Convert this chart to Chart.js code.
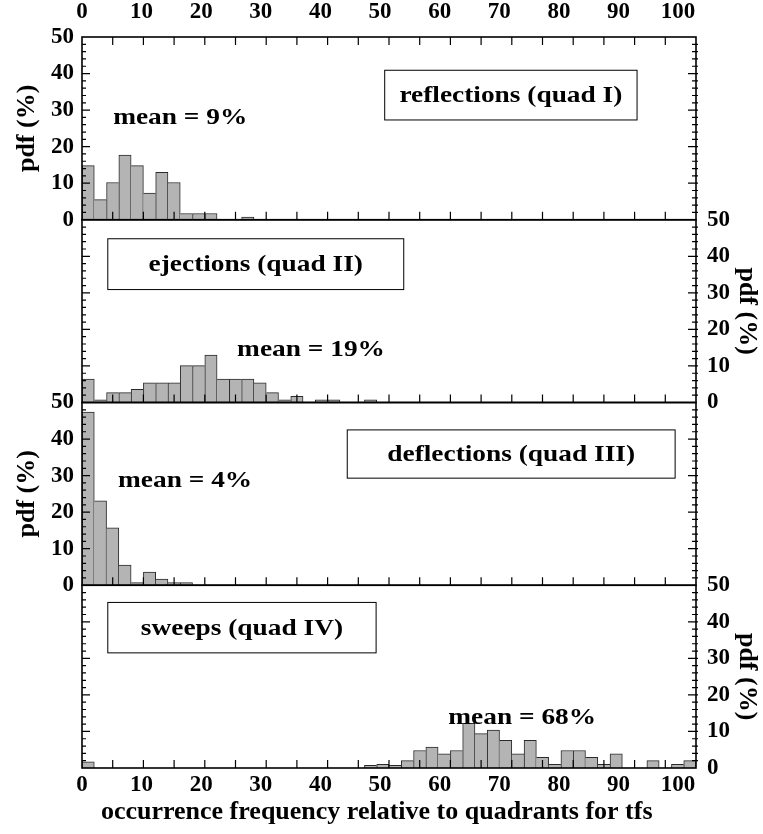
<!DOCTYPE html>
<html>
<head>
<meta charset="utf-8">
<script src="https://cdn.jsdelivr.net/npm/chart.js@4.4.1/dist/chart.umd.min.js"></script>
<style>
  html, body { margin: 0; padding: 0; background: #fff; }
  #wrap { position: relative; width: 763px; height: 834px; }
</style>
</head>
<body>
<div id="wrap"><canvas id="c" width="763" height="834"></canvas></div>
<script>
// Centres of the 2 %-wide occurrence-frequency bins
const binCentres = [1, 3, 5, 7, 9, 11, 13, 15, 17, 19,
  21, 23, 25, 27, 29, 31, 33, 35, 37, 39,
  41, 43, 45, 47, 49, 51, 53, 55, 57, 59,
  61, 63, 65, 67, 69, 71, 73, 75, 77, 79,
  81, 83, 85, 87, 89, 91, 93, 95, 97, 99];

// pdf (%) per bin for each quadrant event type
const reflections = [14.8, 5.5, 10.2, 17.7, 14.8, 7.3, 13.0, 10.2, 1.7, 1.7,
  1.7, 0, 0, 0.7, 0, 0, 0, 0, 0, 0,
  0, 0, 0, 0, 0, 0, 0, 0, 0, 0,
  0, 0, 0, 0, 0, 0, 0, 0, 0, 0,
  0, 0, 0, 0, 0, 0, 0, 0, 0, 0];
const ejections = [6.4, 0.7, 2.7, 2.7, 3.6, 5.4, 5.4, 5.4, 10.1, 10.1,
  13.0, 6.4, 6.4, 6.4, 5.4, 2.7, 0.7, 1.7, 0, 0.7,
  0.7, 0, 0, 0.7, 0, 0, 0, 0, 0, 0,
  0, 0, 0, 0, 0, 0, 0, 0, 0, 0,
  0, 0, 0, 0, 0, 0, 0, 0, 0, 0];
const deflections = [47.4, 23.1, 15.7, 5.5, 0.7, 3.6, 1.7, 0.7, 0.7, 0,
  0, 0, 0, 0, 0, 0, 0, 0, 0, 0,
  0, 0, 0, 0, 0, 0, 0, 0, 0, 0,
  0, 0, 0, 0, 0, 0, 0, 0, 0, 0,
  0, 0, 0, 0, 0, 0, 0, 0, 0, 0];
const sweeps = [1.7, 0, 0, 0, 0, 0, 0, 0, 0, 0,
  0, 0, 0, 0, 0, 0, 0, 0, 0, 0,
  0, 0, 0, 0.7, 1.0, 0.7, 2.0, 4.8, 5.7, 3.9,
  4.8, 12.2, 9.4, 10.4, 7.6, 3.9, 7.6, 2.9, 1.0, 4.8,
  4.8, 2.9, 1.0, 3.9, 0, 0, 2.0, 0, 1.0, 2.0];

const quadrantNames = ['reflections (quad I)', 'ejections (quad II)', 'deflections (quad III)', 'sweeps (quad IV)'];
const meanValues = [9, 19, 4, 68];
const frequencyTicks = [0, 10, 20, 30, 40, 50, 60, 70, 80, 90, 100];
const pdfTicks = [0, 10, 20, 30, 40, 50];
const frequencyTitle = 'occurrence frequency relative to quadrants for tfs';

// Label placement inside each panel, in axis units: [xFrom, xTo, yTop, yBottom]
const nameBoxes = [[49.3, 90.4, 40.9, 27.3], [4.2, 52.4, 44.8, 30.9], [43.2, 96.6, 42.5, 29.3], [4.2, 47.9, 45.3, 31.5]];
const meanSpots = [[16.0, 27.9], [37.3, 14.4], [16.8, 28.7], [71.7, 13.8]];
const titleCentre = 48;
// which side carries the numbered pdf axis in each panel
const labelSide = ['left', 'right', 'left', 'right'];

const FAMILY = "'Liberation Serif', 'Times New Roman', Times, serif";
const tickFont = { family: FAMILY, size: 23, weight: 'bold' };
const titleFont = { family: FAMILY, size: 26, weight: 'bold' };
const textFont = "bold 24px " + FAMILY;
const axisTitleFont = "bold 26px " + FAMILY;
const textStretch = 1.14;

const series = [reflections, ejections, deflections, sweeps];
const leftIds = ['yL1', 'yL2', 'yL3', 'yL4'];
const rightIds = ['yR1', 'yR2', 'yR3', 'yR4'];

function toPoints(values) {
  return binCentres.map((c, i) => ({ x: c, y: values[i] }));
}

// draw each shared bar edge once so neighbouring bars keep a single seam
function edgeWidths(ctx) {
  const d = ctx.dataset.data;
  const i = ctx.dataIndex;
  const cur = d[i].y;
  const prev = i > 0 ? d[i - 1].y : 0;
  const next = i < d.length - 1 ? d[i + 1].y : 0;
  return { top: 1, bottom: 0, left: prev <= cur ? 1 : 0, right: next < cur ? 1 : 0 };
}

const datasets = series.map((vals, p) => ({
  label: quadrantNames[p],
  data: toPoints(vals),
  yAxisID: leftIds[p],
  backgroundColor: '#b4b4b4',
  borderColor: '#2a2a2a',
  borderWidth: edgeWidths,
  borderSkipped: false,
  barPercentage: 1,
  categoryPercentage: 1,
  grouped: false
}));

function pdfAxis(panel, side) {
  const labelled = labelSide[panel] === side;
  return {
    type: 'linear', position: side, stack: side, stackWeight: 1,
    min: 0, max: 50, offset: false,
    grid: { display: false, drawTicks: false },
    border: { display: false },
    ticks: {
      display: labelled, stepSize: 10, autoSkip: false, font: tickFont, color: '#000',
      padding: side === 'left' ? 8 : 11,
      callback: v => (pdfTicks.includes(v) ? String(v) : '')
    },
    title: {
      display: labelled, text: 'pdf (%)', font: titleFont, color: '#000',
      padding: { top: side === 'left' ? 12 : 1, bottom: 0 }
    },
    afterFit: s => { s.width = side === 'left' ? 82 : 67; }
  };
}

// frequency labels, spaced slightly tighter than the tick marks
function frequencyLabelAxis(position) {
  return {
    type: 'linear', position, min: 0, max: 103, offset: false,
    grid: { display: false, drawTicks: false, offset: false },
    border: { display: false },
    ticks: {
      stepSize: 10, includeBounds: false, autoSkip: false, maxRotation: 0,
      font: tickFont, color: '#000', padding: position === 'top' ? 11 : 3,
      callback: v => (frequencyTicks.includes(v) ? String(v) : '')
    },
    afterFit: s => { s.height = position === 'top' ? 37 : 66; }
  };
}

const scales = {
  x: { type: 'linear', min: 0, max: 100, display: false, offset: false, grid: { offset: false } },
  xTop: frequencyLabelAxis('top'),
  xBottom: frequencyLabelAxis('bottom')
};
// left stack is placed last-defined on top, right stack first-defined on top
for (let p = 3; p >= 0; p--) scales[leftIds[p]] = pdfAxis(p, 'left');
for (let p = 0; p < 4; p++) scales[rightIds[p]] = pdfAxis(p, 'right');

function wideText(ctx, text, x, y, stretch) {
  ctx.save();
  ctx.translate(x, y);
  ctx.scale(stretch, 1);
  ctx.fillText(text, 0, 0);
  ctx.restore();
}

const framePlugin = {
  id: 'panelFrames',
  afterDatasetsDraw(chart) {
    const { ctx, chartArea } = chart;
    const xs = chart.scales.x;
    const L = chartArea.left, R = chartArea.right;
    ctx.save();
    ctx.strokeStyle = '#000';
    ctx.textAlign = 'center';
    ctx.textBaseline = 'middle';
    for (let p = 0; p < 4; p++) {
      const ys = chart.scales[leftIds[p]];
      const top = ys.getPixelForValue(50), bot = ys.getPixelForValue(0);
      // ticks every 5 % along the frequency axis
      ctx.lineWidth = 1.2;
      ctx.beginPath();
      for (let v = 5; v < 100; v += 5) {
        const px = xs.getPixelForValue(v);
        ctx.moveTo(px, bot); ctx.lineTo(px, bot - 8);
        if (p === 0) { ctx.moveTo(px, top); ctx.lineTo(px, top + 8); }
      }
      // pdf ticks: long every 10, short every 2, on both sides
      for (let v = 2; v < 50; v += 2) {
        const py = ys.getPixelForValue(v);
        const len = v % 10 === 0 ? 8 : 4;
        ctx.moveTo(L, py); ctx.lineTo(L + len, py);
        ctx.moveTo(R - len, py); ctx.lineTo(R + 2, py);
      }
      ctx.stroke();
      ctx.lineWidth = 1.6;
      ctx.strokeRect(L, top, R - L, bot - top);

      // event-type label in its box
      const b = nameBoxes[p];
      const bx0 = xs.getPixelForValue(b[0]), bx1 = xs.getPixelForValue(b[1]);
      const by0 = ys.getPixelForValue(b[2]), by1 = ys.getPixelForValue(b[3]);
      ctx.fillStyle = '#fff';
      ctx.fillRect(bx0, by0, bx1 - bx0, by1 - by0);
      ctx.lineWidth = 1;
      ctx.strokeRect(bx0, by0, bx1 - bx0, by1 - by0);
      ctx.fillStyle = '#000';
      ctx.font = textFont;
      wideText(ctx, quadrantNames[p], (bx0 + bx1) / 2, (by0 + by1) / 2 + 1, textStretch);

      // mean value
      const m = meanSpots[p];
      wideText(ctx, 'mean = ' + meanValues[p] + '%', xs.getPixelForValue(m[0]), ys.getPixelForValue(m[1]), textStretch);
    }
    // frequency axis title under the bottom tick labels
    const xb = chart.scales.xBottom;
    ctx.font = axisTitleFont;
    ctx.fillText(frequencyTitle, xs.getPixelForValue(titleCentre), xb.bottom - 22);
    ctx.restore();
  }
};

new Chart(document.getElementById('c'), {
  type: 'bar',
  data: { datasets },
  options: {
    responsive: false,
    animation: false,
    devicePixelRatio: 1,
    layout: { padding: 0 },
    plugins: { legend: { display: false }, tooltip: { enabled: false } },
    scales
  },
  plugins: [framePlugin]
});
</script>
</body>
</html>
